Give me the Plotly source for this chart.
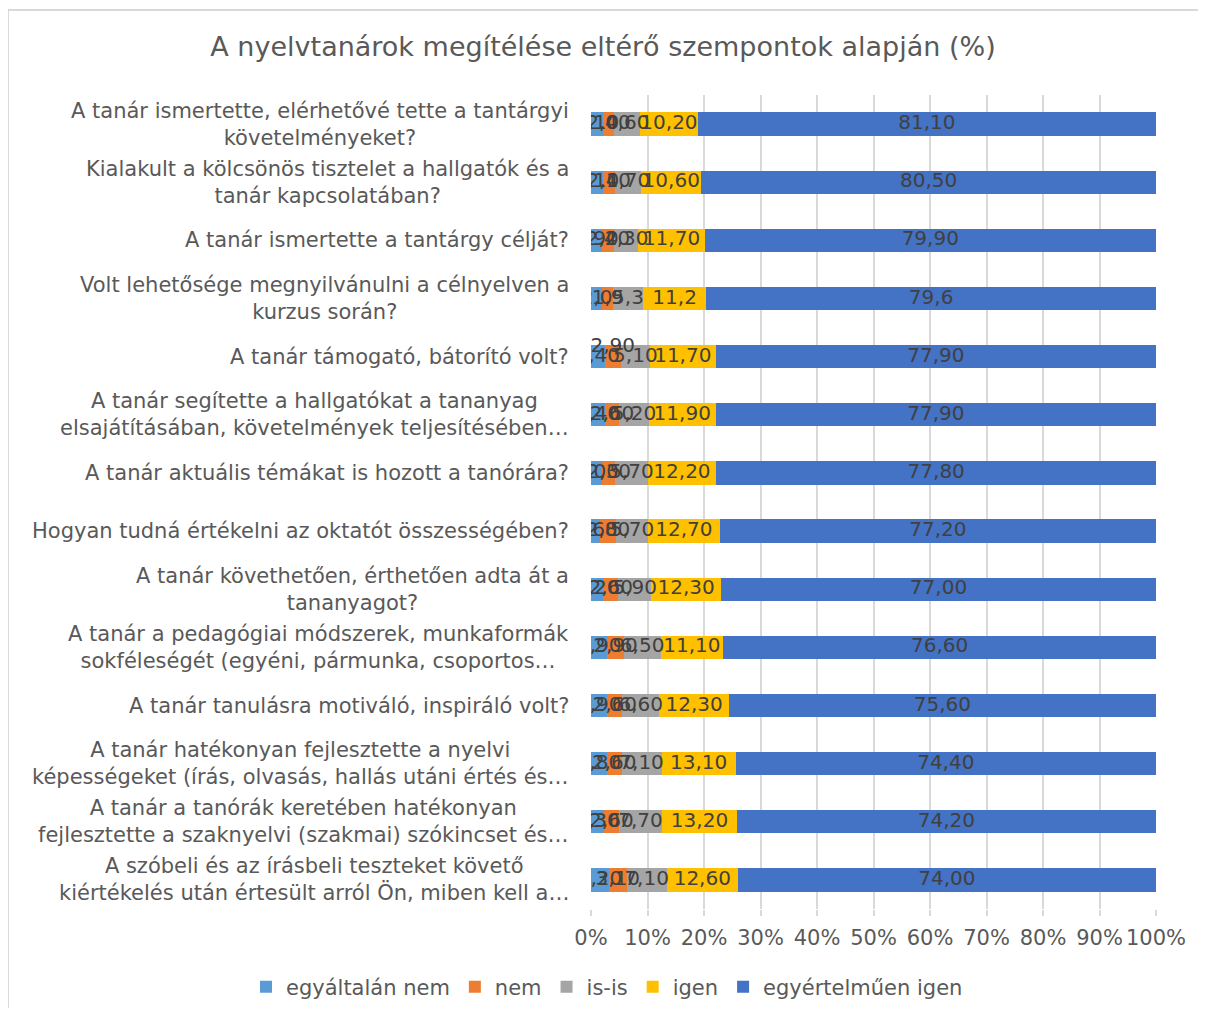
import plotly.graph_objects as go

# Survey questions (top to bottom)
questions = [
    "A tanár ismertette, elérhetővé tette a tantárgyi<br>követelményeket?",
    "Kialakult a kölcsönös tisztelet a hallgatók és a<br>tanár kapcsolatában?",
    "A tanár ismertette a tantárgy célját?",
    "Volt lehetősége megnyilvánulni a célnyelven a<br>kurzus során?",
    "A tanár támogató, bátorító volt?",
    "A tanár segítette a hallgatókat a tananyag<br>elsajátításában, követelmények teljesítésében…",
    "A tanár aktuális témákat is hozott a tanórára?",
    "Hogyan tudná értékelni az oktatót összességében?",
    "A tanár követhetően, érthetően adta át a<br>tananyagot?",
    "A tanár a pedagógiai módszerek, munkaformák<br>sokféleségét (egyéni, pármunka, csoportos…",
    "A tanár tanulásra motiváló, inspiráló volt?",
    "A tanár hatékonyan fejlesztette a nyelvi<br>képességeket (írás, olvasás, hallás utáni értés és…",
    "A tanár a tanórák keretében hatékonyan<br>fejlesztette a szaknyelvi (szakmai) szókincset és…",
    "A szóbeli és az írásbeli teszteket követő<br>kiértékelés után értesült arról Ön, miben kell a…",
]

egyaltalan_nem = [2.1, 2.1, 1.9, 2.0, 2.4, 2.4, 2.0, 1.6, 2.2, 2.9, 2.9, 2.8, 2.3, 3.2]
nem = [2.0, 2.1, 2.2, 1.9, 2.9, 2.6, 2.3, 2.8, 2.6, 2.9, 2.6, 2.6, 2.6, 3.1]
is_is = [4.6, 4.7, 4.3, 5.3, 5.1, 5.2, 5.7, 5.7, 5.9, 6.5, 6.6, 7.1, 7.7, 7.1]
igen = [10.2, 10.6, 11.7, 11.2, 11.7, 11.9, 12.2, 12.7, 12.3, 11.1, 12.3, 13.1, 13.2, 12.6]
egyertelmuen_igen = [81.1, 80.5, 79.9, 79.6, 77.9, 77.9, 77.8, 77.2, 77.0, 76.6, 75.6, 74.4, 74.2, 74.0]

# number of decimals shown in each row's data labels
decimals = [2, 2, 2, 1, 2, 2, 2, 2, 2, 2, 2, 2, 2, 2]

x_ticks = [0, 10, 20, 30, 40, 50, 60, 70, 80, 90, 100]

series = [
    ("egyáltalán nem", egyaltalan_nem, "#5B9BD5"),
    ("nem", nem, "#ED7D31"),
    ("is-is", is_is, "#A5A5A5"),
    ("igen", igen, "#FFC000"),
    ("egyértelműen igen", egyertelmuen_igen, "#4472C4"),
]

FONT = "DejaVu Sans"
W, H = 1190, 1000  # page body adds an 8px margin
L, T, PW, PH = 583, 87, 565, 814  # plot area
rows = list(range(len(questions)))

fig = go.Figure()

for name, values, color in series:
    fig.add_trace(go.Bar(
        y=rows,
        x=values,
        name=name,
        orientation="h",
        marker=dict(color=color, line=dict(width=0)),
    ))

# Data labels centred on each segment
base = [0.0] * len(rows)
for name, values, color in series:
    centers = [b + v / 2 for b, v in zip(base, values)]
    texts = [f"{v:.{d}f}".replace(".", ",") for v, d in zip(values, decimals)]
    positions = ["middle center"] * len(rows)
    if name == "nem":
        positions[4] = "top center"  # this label sits above the bar in the original
    fig.add_trace(go.Scatter(
        x=centers,
        y=rows,
        mode="text",
        text=texts,
        textposition=positions,
        textfont=dict(family=FONT, size=20, color="#404040"),
        showlegend=False,
        hoverinfo="skip",
    ))
    base = [b + v for b, v in zip(base, values)]

# Category labels (centred lines, right edge near the axis)
for i, q in enumerate(questions):
    fig.add_annotation(
        x=0, xref="paper", xshift=-20, xanchor="right",
        y=i, yref="y",
        text=q, showarrow=False, align="center",
        font=dict(family=FONT, size=21, color="#595959"),
    )

# Outer chart border
fig.add_shape(
    type="rect", xref="paper", yref="paper",
    x0=-L / PW, x1=2, y0=-1, y1=1 + 85 / PH,
    line=dict(color="#D9D9D9", width=2), fillcolor="rgba(0,0,0,0)",
    layer="below",
)

fig.update_layout(
    width=W,
    height=H,
    barmode="stack",
    bargap=0.6,
    plot_bgcolor="white",
    paper_bgcolor="white",
    margin=dict(l=L, r=W - L - PW, t=T, b=H - T - PH, autoexpand=False),
    title=dict(
        text="A nyelvtanárok megítélése eltérő szempontok alapján (%)",
        x=0.5, xref="container", xanchor="center",
        y=1 - 39 / H, yref="container", yanchor="middle",
        font=dict(family=FONT, size=27, color="#595959"),
    ),
    legend=dict(
        orientation="h",
        x=(238 - L) / PW, xref="paper", xanchor="left",
        y=-(979 - T - PH) / PH, yref="paper", yanchor="middle",
        font=dict(family=FONT, size=21, color="#595959"),
        traceorder="normal",
        itemwidth=30,
    ),
    font=dict(family=FONT, color="#595959"),
    showlegend=True,
)

fig.update_xaxes(
    range=[0, 100],
    tickvals=x_ticks,
    ticktext=[f"{t}%" for t in x_ticks],
    showgrid=True, gridcolor="#D9D9D9", gridwidth=2,
    zeroline=False,
    ticks="outside", ticklen=6, tickcolor="#D9D9D9", tickwidth=2,
    ticklabelstandoff=4,
    tickfont=dict(family=FONT, size=21, color="#595959"),
    fixedrange=True,
)

fig.update_yaxes(
    range=[len(rows) - 0.5, -0.5],
    showticklabels=False,
    showgrid=False,
    zeroline=False,
    fixedrange=True,
)

fig.write_html("out.html")
